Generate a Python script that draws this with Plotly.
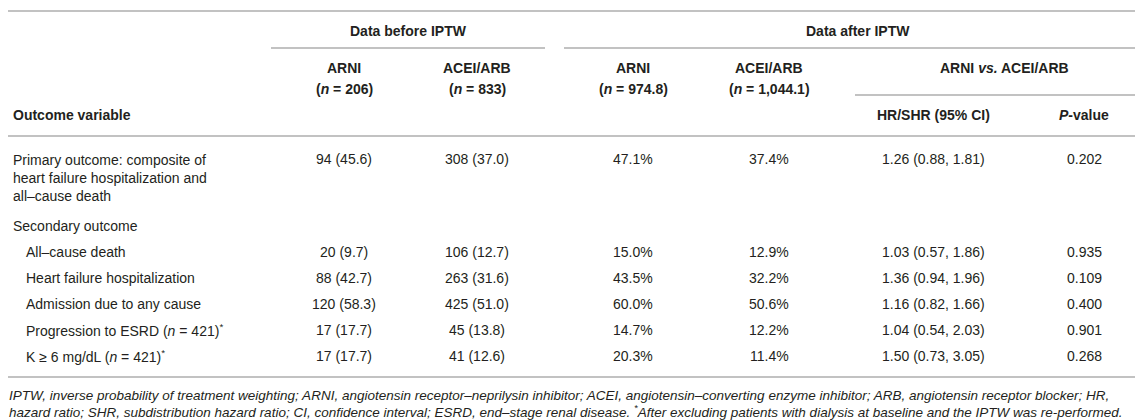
import plotly.graph_objects as go

# table content
outcome_labels = [
    "Primary outcome: composite of<br>heart failure hospitalization and<br>all–cause death",
    "All–cause death",
    "Heart failure hospitalization",
    "Admission due to any cause",
    "Progression to ESRD (<i>n</i> = 421)<sup>*</sup>",
    "K ≥ 6 mg/dL (<i>n</i> = 421)<sup>*</sup>",
]
arni_before = ["94 (45.6)", "20 (9.7)", "88 (42.7)", "120 (58.3)", "17 (17.7)", "17 (17.7)"]
acei_before = ["308 (37.0)", "106 (12.7)", "263 (31.6)", "425 (51.0)", "45 (13.8)", "41 (12.6)"]
arni_after = ["47.1%", "15.0%", "43.5%", "60.0%", "14.7%", "20.3%"]
acei_after = ["37.4%", "12.9%", "32.2%", "50.6%", "12.2%", "11.4%"]
hr_ci = ["1.26 (0.88, 1.81)", "1.03 (0.57, 1.86)", "1.36 (0.94, 1.96)",
         "1.16 (0.82, 1.66)", "1.04 (0.54, 2.03)", "1.50 (0.73, 3.05)"]
p_values = ["0.202", "0.935", "0.109", "0.400", "0.901", "0.268"]

group_headers = ["Data before IPTW", "Data after IPTW"]
col_names = ["ARNI", "ACEI/ARB", "ARNI", "ACEI/ARB"]
col_ns = ["(<i>n</i> = 206)", "(<i>n</i> = 833)", "(<i>n</i> = 974.8)", "(<i>n</i> = 1,044.1)"]
compare_header = "ARNI <i>vs.</i> ACEI/ARB"
stat_headers = ["HR/SHR (95% CI)", "<i>P</i>-value"]
section_label = "Secondary outcome"

footnote = [
    "IPTW, inverse probability of treatment weighting; ARNI, angiotensin receptor–neprilysin inhibitor; "
    "ACEI, angiotensin–converting enzyme inhibitor; ARB, angiotensin receptor blocker; HR,",
    "hazard ratio; SHR, subdistribution hazard ratio; CI, confidence interval; ESRD, end–stage renal disease. "
    "<sup>*</sup>After excluding patients with dialysis at baseline and the IPTW was re-performed.",
]

# layout (pixel-like coordinates)
W, H = 1143, 420
FONT = "Liberation Sans, Arial, sans-serif"
TXT = "#231f20"
RULE = "#c2c2c2"
col_x = [336, 469, 625, 761, 925, 1076]
row_y = [151, 244, 270, 296, 322, 348]
label_x = [4, 17, 17, 17, 17, 17]
line_gap = 19

fig = go.Figure()
fig.add_trace(go.Scatter(x=[0, W], y=[0, H], mode="markers", marker=dict(opacity=0),
                         hoverinfo="skip", showlegend=False))

ann = []


def txt(x, y, s, bold=False, xanchor="center", size=14, italic=False):
    if bold:
        s = "<b>" + s + "</b>"
    if italic:
        s = "<i>" + s + "</i>"
    ann.append(dict(x=x, y=y, xref="x", yref="y", text=s, showarrow=False,
                    xanchor=xanchor, yanchor="middle", align="left", borderpad=0,
                    font=dict(family=FONT, size=size, color=TXT)))


# header
txt(400, 23, group_headers[0], bold=True)
txt(850, 23, group_headers[1], bold=True)
for i in range(4):
    txt(col_x[i], 60, col_names[i], bold=True)
    txt(col_x[i], 81, col_ns[i], bold=True)
txt(996, 60, compare_header, bold=True)
txt(col_x[4], 107, stat_headers[0], bold=True)
txt(col_x[5], 107, stat_headers[1], bold=True)
txt(4, 107, "Outcome variable", bold=True, xanchor="left")

# body
columns = [arni_before, acei_before, arni_after, acei_after, hr_ci, p_values]
for r, label in enumerate(outcome_labels):
    nlines = label.count("<br>") + 1
    txt(label_x[r], row_y[r] + (nlines - 1) * line_gap / 2, label, xanchor="left")
    for c, col in enumerate(columns):
        txt(col_x[c], row_y[r], col[r])
txt(4, 218, section_label, xanchor="left")

# footnote
txt(0, 387, footnote[0], xanchor="left", size=13.5, italic=True)
txt(0, 403, footnote[1], xanchor="left", size=13.5, italic=True)

# rules
rules = [(0, W, 3), (263, 537, 40), (556, W, 40), (847, W, 87), (0, W, 128), (0, W, 369)]
shapes = [dict(type="line", xref="x", yref="y", x0=a, x1=b, y0=y, y1=y,
               line=dict(color=RULE, width=2)) for a, b, y in rules]

fig.update_layout(
    width=W, height=H, margin=dict(l=0, r=0, t=0, b=0),
    paper_bgcolor="white", plot_bgcolor="white",
    xaxis=dict(range=[0, W], visible=False, fixedrange=True),
    yaxis=dict(range=[H, 0], visible=False, fixedrange=True),
    annotations=ann, shapes=shapes, showlegend=False,
)
fig.write_html("out.html", config={"displayModeBar": False})
